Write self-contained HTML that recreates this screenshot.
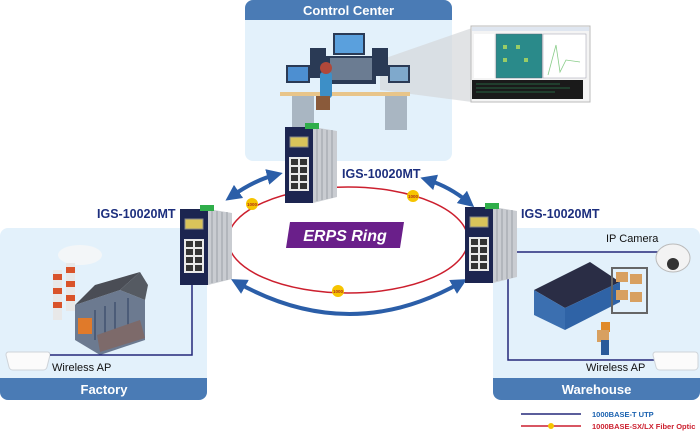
<!DOCTYPE html>
<html><head><meta charset="utf-8"><style>
html,body{margin:0;padding:0;background:#fff;width:700px;height:432px;overflow:hidden}
text{font-family:"Liberation Sans",sans-serif}
</style></head><body>
<svg width="700" height="432" viewBox="0 0 700 432" xmlns="http://www.w3.org/2000/svg">
<defs>
<marker id="ah" viewBox="0 0 10 10" refX="5" refY="5" markerWidth="4" markerHeight="4" orient="auto-start-reverse"><path d="M0,0 L10,5 L0,10 z" fill="#2b5ea8"/></marker>
<g id="sw">
  <rect x="0" y="4" width="28" height="76" fill="#1c2550"/>
  <polygon points="28,4 52,8 52,74 28,80" fill="#c9ccd1"/>
  <g stroke="#9aa0a8" stroke-width="1"><line x1="32" y1="6" x2="32" y2="78"/><line x1="37" y1="6" x2="37" y2="77"/><line x1="42" y1="7" x2="42" y2="76"/><line x1="47" y1="7" x2="47" y2="75"/></g>
  <rect x="20" y="0" width="14" height="6" fill="#2fae4a"/>
  <rect x="5" y="14" width="18" height="10" fill="#d9c35a" stroke="#888" stroke-width="1"/>
  <rect x="4" y="34" width="20" height="34" fill="#e8e8e8"/>
  <g fill="#333"><rect x="6" y="36" width="7" height="6"/><rect x="15" y="36" width="7" height="6"/><rect x="6" y="44" width="7" height="6"/><rect x="15" y="44" width="7" height="6"/><rect x="6" y="52" width="7" height="6"/><rect x="15" y="52" width="7" height="6"/><rect x="6" y="60" width="7" height="6"/><rect x="15" y="60" width="7" height="6"/></g>
</g>
<g id="badge"><circle r="6" fill="#f6c400"/><text x="0" y="2" font-size="4.5" text-anchor="middle" fill="#b0301a" font-weight="bold">1000</text></g>
</defs>

<!-- Control center panel -->
<rect x="245" y="0" width="207" height="161" rx="8" fill="#e3f1fb"/>
<path d="M245,20 V8 a8,8 0 0 1 8,-8 H444 a8,8 0 0 1 8,8 V20 z" fill="#4a7bb5"/>
<text x="348.5" y="15" font-size="13" font-weight="bold" fill="#fff" text-anchor="middle">Control Center</text>
<!-- screen projection -->
<polygon points="380,60 472,28 472,102 380,90" fill="#d4d7da" opacity="0.7"/>
<rect x="471" y="26" width="119" height="76" fill="#f4f4f4" stroke="#bbb"/>
<rect x="472" y="27" width="117" height="4" fill="#dfe6f0"/>
<rect x="474" y="34" width="20" height="44" fill="#fff"/>
<rect x="496" y="34" width="46" height="44" fill="#2a8a8a" stroke="#567" stroke-width="0.5"/>
<g fill="#9c6"><rect x="503" y="45" width="4" height="4"/><rect x="516" y="45" width="4" height="4"/><rect x="503" y="58" width="4" height="4"/><rect x="524" y="58" width="4" height="4"/></g>
<rect x="543" y="34" width="43" height="44" fill="#fff" stroke="#99a" stroke-width="0.5"/>
<polyline points="548,75 556,45 560,72 566,60 580,62" fill="none" stroke="#8c8" stroke-width="0.8"/>
<rect x="472" y="80" width="111" height="19" fill="#1a1a1a"/>
<g stroke="#3a6" stroke-width="0.6"><line x1="476" y1="84" x2="560" y2="84"/><line x1="476" y1="88" x2="570" y2="88"/><line x1="476" y1="92" x2="555" y2="92"/></g>
<!-- desk -->
<rect x="280" y="92" width="130" height="4" fill="#e8c58a"/>
<rect x="292" y="96" width="22" height="34" fill="#a9b6c2"/>
<rect x="385" y="96" width="22" height="34" fill="#a9b6c2"/>
<rect x="286" y="65" width="24" height="18" fill="#2a3a55"/><rect x="288" y="67" width="20" height="14" fill="#4d8fd1"/>
<rect x="310" y="48" width="16" height="30" fill="#2a3a55"/>
<rect x="333" y="33" width="32" height="22" fill="#2a3a55"/><rect x="335" y="35" width="28" height="18" fill="#5aa0dd"/>
<rect x="326" y="56" width="50" height="28" fill="#2a3a55"/><rect x="330" y="58" width="42" height="22" fill="#6b7c92"/>
<rect x="372" y="48" width="16" height="28" fill="#2a3a55"/>
<rect x="388" y="65" width="22" height="18" fill="#2a3a55"/><rect x="390" y="67" width="18" height="14" fill="#7fa9cc"/>
<rect x="320" y="72" width="12" height="26" rx="3" fill="#3d8fc7"/>
<circle cx="326" cy="68" r="6" fill="#b0483a"/>
<rect x="316" y="96" width="14" height="14" fill="#8a5a3a"/>

<!-- Factory panel -->
<rect x="0" y="228" width="207" height="172" rx="8" fill="#e3f1fb"/>
<path d="M0,378 H207 V392 a8,8 0 0 1 -8,8 H8 a8,8 0 0 1 -8,-8 z" fill="#4a7bb5"/>
<text x="104" y="394" font-size="13" font-weight="bold" fill="#fff" text-anchor="middle">Factory</text>
<!-- factory art -->
<ellipse cx="80" cy="255" rx="22" ry="10" fill="#f3f6f8"/>
<rect x="53" y="270" width="9" height="50" fill="#e8e8e8"/>
<rect x="66" y="263" width="9" height="48" fill="#e8e8e8"/>
<g fill="#d9532a"><rect x="53" y="274" width="9" height="6"/><rect x="53" y="288" width="9" height="6"/><rect x="53" y="302" width="9" height="6"/><rect x="66" y="267" width="9" height="6"/><rect x="66" y="281" width="9" height="6"/><rect x="66" y="295" width="9" height="6"/></g>
<polygon points="75,305 120,290 145,300 145,340 100,355 75,340" fill="#6c7a90"/>
<polygon points="75,305 120,290 140,272 95,285" fill="#4a4d55"/>
<polygon points="120,290 140,272 148,285 145,300" fill="#555a62"/>
<g stroke="#2c3e60" stroke-width="1"><line x1="95" y1="310" x2="95" y2="340"/><line x1="105" y1="306" x2="105" y2="336"/><line x1="115" y1="302" x2="115" y2="332"/><line x1="128" y1="298" x2="128" y2="326"/></g>
<polygon points="97,335 140,320 145,338 100,352" fill="#7d6a6a"/>
<rect x="78" y="318" width="14" height="16" fill="#e07a2a"/>
<!-- AP -->
<path d="M8,352 h40 a3,3 0 0 1 2,3 l-3,12 a4,4 0 0 1 -4,3 h-30 a4,4 0 0 1 -4,-3 l-3,-12 a3,3 0 0 1 2,-3 z" fill="#fbfbfb" stroke="#cfd4d9"/>
<text x="52" y="371" font-size="11" fill="#111">Wireless AP</text>
<polyline points="50,355 192,355 192,280" fill="none" stroke="#25297a" stroke-width="1.5"/>

<!-- Warehouse panel -->
<rect x="493" y="228" width="207" height="172" rx="8" fill="#e3f1fb"/>
<path d="M493,378 H700 V392 a8,8 0 0 1 -8,8 H501 a8,8 0 0 1 -8,-8 z" fill="#4a7bb5"/>
<text x="596.5" y="394" font-size="13" font-weight="bold" fill="#fff" text-anchor="middle">Warehouse</text>
<polyline points="515,252 660,252" fill="none" stroke="#25297a" stroke-width="1.5"/>
<polyline points="508,275 508,360 655,360" fill="none" stroke="#25297a" stroke-width="1.5"/>
<text x="606" y="242" font-size="11" fill="#111">IP Camera</text>
<ellipse cx="673" cy="258" rx="17" ry="14" fill="#f3f3f3" stroke="#bbb"/>
<circle cx="673" cy="264" r="6" fill="#333"/>
<text x="586" y="371" font-size="11" fill="#111">Wireless AP</text>
<path d="M655,352 h40 a3,3 0 0 1 3,3 v12 a4,4 0 0 1 -4,3 h-34 a4,4 0 0 1 -4,-3 l-3,-12 a3,3 0 0 1 2,-3 z" fill="#fbfbfb" stroke="#cfd4d9"/>
<!-- warehouse art -->
<polygon points="534,290 590,262 620,282 565,308" fill="#2a2d45"/>
<polygon points="534,290 565,308 565,330 534,315" fill="#3b6fb0"/>
<polygon points="565,308 620,282 620,302 565,330" fill="#2f63a6"/>
<rect x="612" y="268" width="35" height="45" fill="none" stroke="#666" stroke-width="2"/>
<g fill="#d8a060"><rect x="616" y="272" width="12" height="10"/><rect x="630" y="274" width="12" height="10"/><rect x="616" y="290" width="12" height="10"/><rect x="630" y="292" width="12" height="10"/></g>
<rect x="601" y="322" width="9" height="10" fill="#e08a2a"/>
<rect x="597" y="330" width="12" height="12" fill="#d8a060"/>
<rect x="601" y="340" width="8" height="15" fill="#2a5a9a"/>

<!-- ring -->
<ellipse cx="348" cy="240" rx="120" ry="53" fill="none" stroke="#cc1f2e" stroke-width="1.5"/>
<use href="#badge" x="252" y="204"/>
<use href="#badge" x="413" y="196"/>
<use href="#badge" x="338" y="291"/>

<!-- arrows -->
<path d="M232,196 Q255,180 275,175" fill="none" stroke="#2b5ea8" stroke-width="4" marker-start="url(#ah)" marker-end="url(#ah)"/>
<path d="M428,180 Q450,187 468,202" fill="none" stroke="#2b5ea8" stroke-width="4" marker-start="url(#ah)" marker-end="url(#ah)"/>
<path d="M238,283 Q350,345 460,283" fill="none" stroke="#2b5ea8" stroke-width="4" marker-start="url(#ah)" marker-end="url(#ah)"/>

<!-- ERPS label -->
<polygon points="290,222 404,222 400,248 286,248" fill="#6a1f8a"/>
<text x="345" y="241" font-size="16" font-weight="bold" font-style="italic" fill="#fff" text-anchor="middle">ERPS Ring</text>

<!-- switches -->
<use href="#sw" x="285" y="123"/>
<use href="#sw" x="180" y="205"/>
<use href="#sw" x="465" y="203"/>

<text x="342" y="178" font-size="12.5" font-weight="bold" fill="#1d2f7e">IGS-10020MT</text>
<text x="97" y="218" font-size="12.5" font-weight="bold" fill="#1d2f7e">IGS-10020MT</text>
<text x="521" y="218" font-size="12.5" font-weight="bold" fill="#1d2f7e">IGS-10020MT</text>

<!-- legend -->
<line x1="521" y1="414" x2="581" y2="414" stroke="#25297a" stroke-width="1.5"/>
<text x="592" y="417" font-size="7.5" font-weight="bold" fill="#1a62b0">1000BASE-T UTP</text>
<line x1="521" y1="426" x2="581" y2="426" stroke="#cc1f2e" stroke-width="1.5"/>
<circle cx="551" cy="426" r="3" fill="#f6c400"/>
<text x="592" y="429" font-size="7.5" font-weight="bold" fill="#cc1f2e">1000BASE-SX/LX Fiber Optic</text>
</svg>
</body></html>
